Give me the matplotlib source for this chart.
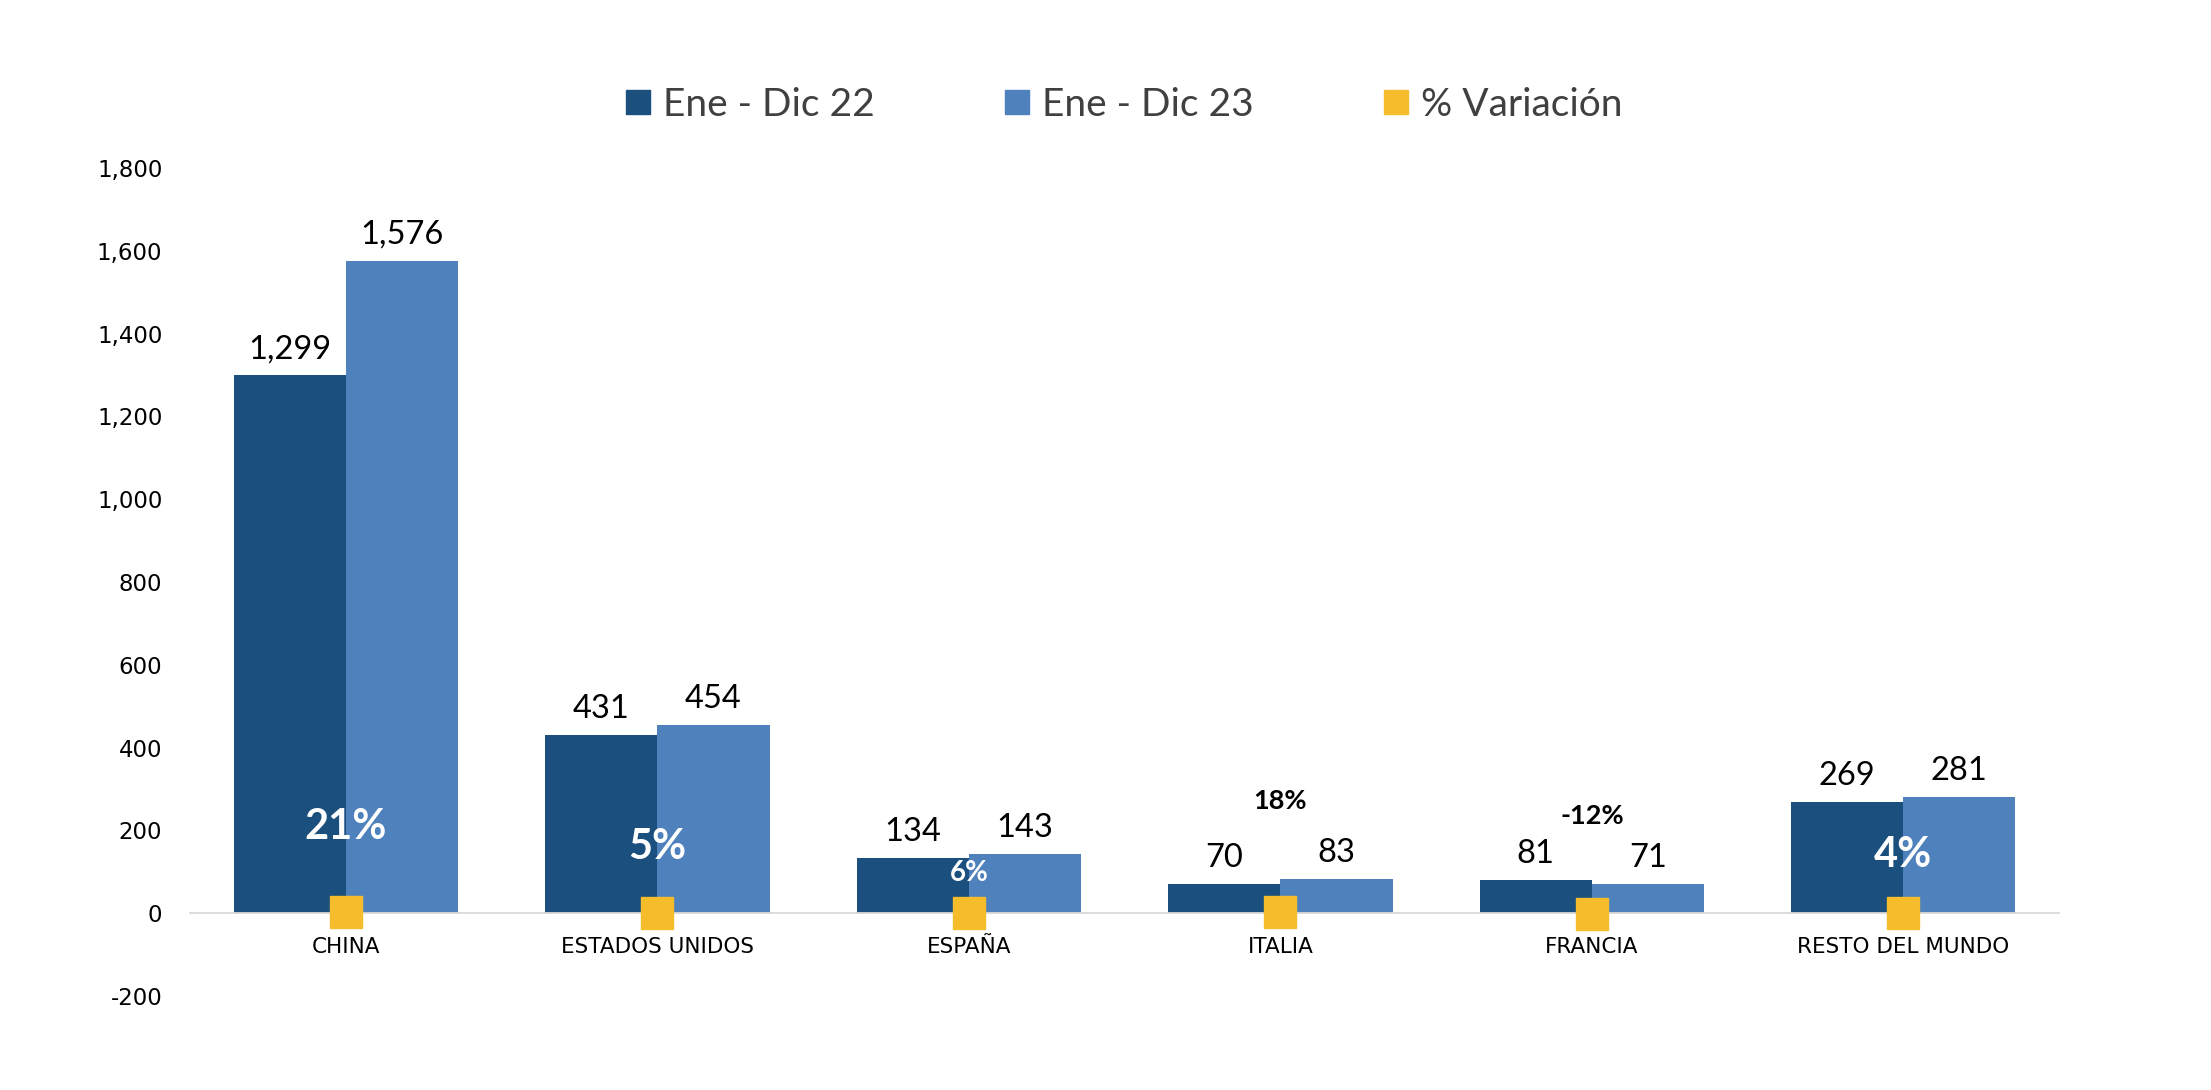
import matplotlib
matplotlib.use("Agg")
import matplotlib.pyplot as plt
from matplotlib.lines import Line2D
from matplotlib.ticker import FuncFormatter
import numpy as np

categories = ["CHINA", "ESTADOS UNIDOS", "ESPAÑA", "ITALIA", "FRANCIA", "RESTO DEL MUNDO"]
ene_dic_22 = [1299, 431, 134, 70, 81, 269]
ene_dic_23 = [1576, 454, 143, 83, 71, 281]
variacion = [0.21, 0.05, 0.06, 0.18, -0.12, 0.04]

# where the % labels sit (layout only) and how they look
pct_label_y = [208, 160, 97, 271, 235, 141]
pct_style = [("white", 30), ("white", 30), ("white", 20),
             ("black", 19.5), ("black", 19.5), ("white", 30)]

C22 = "#1A4F7E"
C23 = "#4F81BD"
CVAR = "#F5BD2C"
FONT = "Lato"

fig = plt.figure(figsize=(22.11, 10.90), dpi=100)
fig.patch.set_facecolor("white")
ax = fig.add_axes([0.086, 0.0862, 0.8453, 0.7597])

x = np.arange(len(categories))
w = 0.36
b22 = ax.bar(x - w / 2, ene_dic_22, w, color=C22, zorder=2)
b23 = ax.bar(x + w / 2, ene_dic_23, w, color=C23, zorder=2)

for bars in (b22, b23):
    for rect in bars:
        ax.annotate(f"{rect.get_height():,.0f}",
                    (rect.get_x() + rect.get_width() / 2, rect.get_height()),
                    xytext=(0, 8), textcoords="offset points",
                    ha="center", va="bottom", fontsize=23.5, family=FONT, color="black")

ax.set_xlim(-0.5, len(categories) - 0.5)
ax.set_ylim(-200, 1800)
ax.set_yticks(np.arange(-200, 1801, 200))
ax.yaxis.set_major_formatter(FuncFormatter(lambda v, p: f"{v:,.0f}"))
ax.tick_params(axis="y", length=0, pad=20, labelsize=16.5)
for lab in ax.get_yticklabels():
    lab.set_family("DejaVu Sans")

ax.set_xticks(x)
ax.tick_params(axis="x", length=0, pad=17, labelsize=15.5)
ax.set_xticklabels(categories)
for lab in ax.get_xticklabels():
    lab.set_family(FONT)

for s in ("top", "right", "left"):
    ax.spines[s].set_visible(False)
ax.spines["bottom"].set_position(("data", 0))
ax.spines["bottom"].set_color("#D9D9D9")
ax.spines["bottom"].set_linewidth(1.3)

# % Variación on a secondary scale, so the markers sit at the zero line
ax2 = ax.twinx()
ax2.set_ylim(-20, 180)
ax2.plot(x, variacion, linestyle="none", marker="s", markersize=23,
         color=CVAR, zorder=3)
ax2.set_yticks([])
for s in ax2.spines.values():
    s.set_visible(False)

for i, (v, ly) in enumerate(zip(variacion, pct_label_y)):
    col, fs = pct_style[i]
    ax.text(x[i], ly, f"{v:.0%}", ha="center", va="center", color=col,
            fontsize=fs, fontweight="bold", family=FONT, zorder=5)

handles = [
    Line2D([], [], linestyle="none", marker="s", markersize=17.5, color=C22),
    Line2D([], [], linestyle="none", marker="s", markersize=17.5, color=C23),
    Line2D([], [], linestyle="none", marker="s", markersize=17.5, color=CVAR),
]
leg = fig.legend(handles, ["Ene - Dic 22", "Ene - Dic 23", "% Variación"],
                 loc="center", bbox_to_anchor=(0.508, 0.904), ncol=3,
                 frameon=False, handlelength=0.7, handletextpad=0.3,
                 columnspacing=3.3, prop={"family": FONT, "size": 28})
for t in leg.get_texts():
    t.set_color("#404040")

fig.savefig("out.png", dpi=100, facecolor="white")
